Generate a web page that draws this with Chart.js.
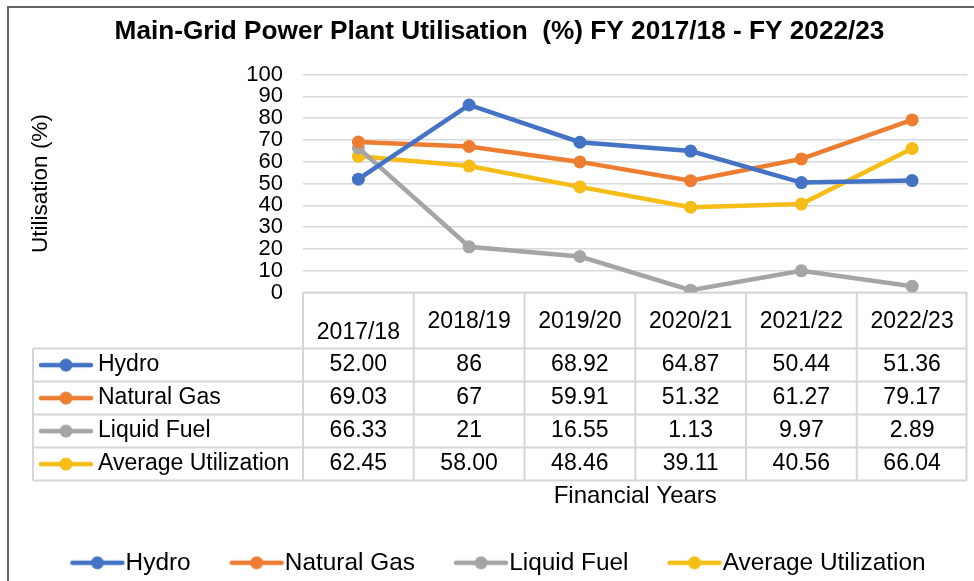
<!DOCTYPE html>
<html>
<head>
<meta charset="utf-8">
<title>Main-Grid Power Plant Utilisation</title>
<script src="https://cdn.jsdelivr.net/npm/chart.js@4.4.1/dist/chart.umd.min.js"></script>
<style>
  html, body { margin: 0; padding: 0; background: #fff; }
  #wrap { width: 974px; height: 581px; }
</style>
</head>
<body>
<div id="wrap"><canvas id="chart" width="974" height="581"></canvas></div>
<script>
// values as printed in the data table under the chart
const years = ['2017/18', '2018/19', '2019/20', '2020/21', '2021/22', '2022/23'];
const hydroCells = ['52.00', '86', '68.92', '64.87', '50.44', '51.36'];
const gasCells = ['69.03', '67', '59.91', '51.32', '61.27', '79.17'];
const liquidCells = ['66.33', '21', '16.55', '1.13', '9.97', '2.89'];
const averageCells = ['62.45', '58.00', '48.46', '39.11', '40.56', '66.04'];

const seriesNames = ['Hydro', 'Natural Gas', 'Liquid Fuel', 'Average Utilization'];
const seriesCells = [hydroCells, gasCells, liquidCells, averageCells];
const seriesColors = ['#4472c4', '#ed7d31', '#a5a5a5', '#f6bd16'];

const FONT = '"Liberation Sans", Arial, sans-serif';
Chart.defaults.font.family = FONT;
Chart.defaults.color = '#000';

// line + dot key, like the Excel legend keys (pad = empty space on the left)
function lineMarker(color, pad) {
  const c = document.createElement('canvas');
  c.width = 56 + pad;
  c.height = 16;
  const g = c.getContext('2d');
  g.strokeStyle = color;
  g.fillStyle = color;
  g.lineWidth = 4.5;
  g.lineCap = 'round';
  g.beginPath();
  g.moveTo(pad + 3, 8);
  g.lineTo(pad + 53, 8);
  g.stroke();
  g.beginPath();
  g.arc(pad + 28, 8, 6.5, 0, Math.PI * 2);
  g.fill();
  return c;
}

const legendMarkers = seriesColors.map((c) => lineMarker(c, 8));

const dataTable = {
  id: 'dataTable',
  beforeDatasetsDraw(chart) {
    const { ctx, chartArea, scales: { x } } = chart;
    const colW = chartArea.width / years.length;
    const top = chartArea.bottom;
    const headBottom = top + 56;
    const rowH = 33;
    const tableLeft = 33;
    const right = chartArea.right - 1;
    const bottom = headBottom + rowH * seriesNames.length;

    ctx.save();
    ctx.strokeStyle = '#d6d6d6';
    ctx.lineWidth = 2;
    ctx.beginPath();
    ctx.moveTo(chartArea.left, top);
    ctx.lineTo(right, top);
    for (let r = 0; r <= seriesNames.length; r++) {
      const y = headBottom + r * rowH;
      ctx.moveTo(tableLeft, y);
      ctx.lineTo(right, y);
    }
    for (let i = 0; i <= years.length; i++) {
      const xx = Math.min(chartArea.left + i * colW, right);
      ctx.moveTo(xx, top);
      ctx.lineTo(xx, bottom);
    }
    ctx.moveTo(tableLeft, headBottom);
    ctx.lineTo(tableLeft, bottom);
    ctx.stroke();

    ctx.fillStyle = '#000';
    ctx.font = '23px ' + FONT;
    ctx.textAlign = 'center';
    ctx.textBaseline = 'middle';
    years.forEach((yr, i) => {
      ctx.fillText(yr, x.getPixelForValue(i), i === 0 ? top + 40 : top + 29);
    });

    seriesNames.forEach((name, r) => {
      const cy = headBottom + r * rowH + rowH / 2;
      ctx.textAlign = 'center';
      seriesCells[r].forEach((cell, i) => {
        ctx.fillText(cell, x.getPixelForValue(i), cy);
      });
      ctx.drawImage(lineMarker(seriesColors[r], 0), 38, cy - 8);
      ctx.textAlign = 'left';
      ctx.fillText(name, 98, cy);
    });
    ctx.restore();
  },
  afterDraw(chart) {
    const { ctx } = chart;
    ctx.save();
    ctx.strokeStyle = '#666';
    ctx.lineWidth = 2;
    ctx.beginPath();
    ctx.moveTo(8, 581);
    ctx.lineTo(8, 7);
    ctx.lineTo(974, 7);
    ctx.stroke();
    ctx.restore();
  }
};

new Chart(document.getElementById('chart'), {
  type: 'line',
  data: {
    labels: years,
    datasets: seriesNames.map((name, i) => ({
      label: name,
      data: seriesCells[i].map(Number),
      borderColor: seriesColors[i],
      backgroundColor: seriesColors[i],
      borderWidth: 4.5,
      pointRadius: 6.5,
      pointHoverRadius: 6.5,
      pointBorderWidth: 0,
      tension: 0
    }))
  },
  options: {
    responsive: false,
    animation: false,
    devicePixelRatio: 1,
    layout: { padding: { left: 25, right: 0, top: 0, bottom: -4 } },
    scales: {
      x: {
        offset: true,
        afterFit: (s) => { s.height = 216; },
        ticks: { display: false },
        grid: { display: false },
        border: { display: false },
        title: {
          display: true,
          text: 'Financial Years',
          font: { size: 24, lineHeight: 1 },
          padding: { top: 0, bottom: 0 }
        }
      },
      y: {
        min: 0,
        max: 100,
        afterFit: (s) => { s.width = 278; },
        ticks: {
          stepSize: 10,
          autoSkip: false,
          padding: 20,
          font: { size: 22, lineHeight: 1 }
        },
        grid: { color: '#d9d9d9', lineWidth: 1.5, drawTicks: false },
        border: { display: false },
        title: {
          display: true,
          text: 'Utilisation (%)',
          font: { size: 22.5 },
          padding: { top: 2, bottom: 0 }
        }
      }
    },
    plugins: {
      title: {
        display: true,
        text: 'Main-Grid Power Plant Utilisation  (%) FY 2017/18 - FY 2022/23',
        font: { size: 26.2, weight: 'bold' },
        padding: { top: 16, bottom: 27 }
      },
      legend: {
        position: 'bottom',
        labels: {
          usePointStyle: true,
          pointStyleWidth: 40,
          padding: 42,
          font: { size: 24.4 },
          generateLabels: (chart) => chart.data.datasets.map((ds, i) => ({
            text: ds.label,
            pointStyle: legendMarkers[i],
            fillStyle: ds.borderColor,
            strokeStyle: ds.borderColor,
            lineWidth: 0,
            hidden: false,
            datasetIndex: i
          }))
        }
      },
      tooltip: { enabled: false }
    }
  },
  plugins: [dataTable]
});
</script>
</body>
</html>
